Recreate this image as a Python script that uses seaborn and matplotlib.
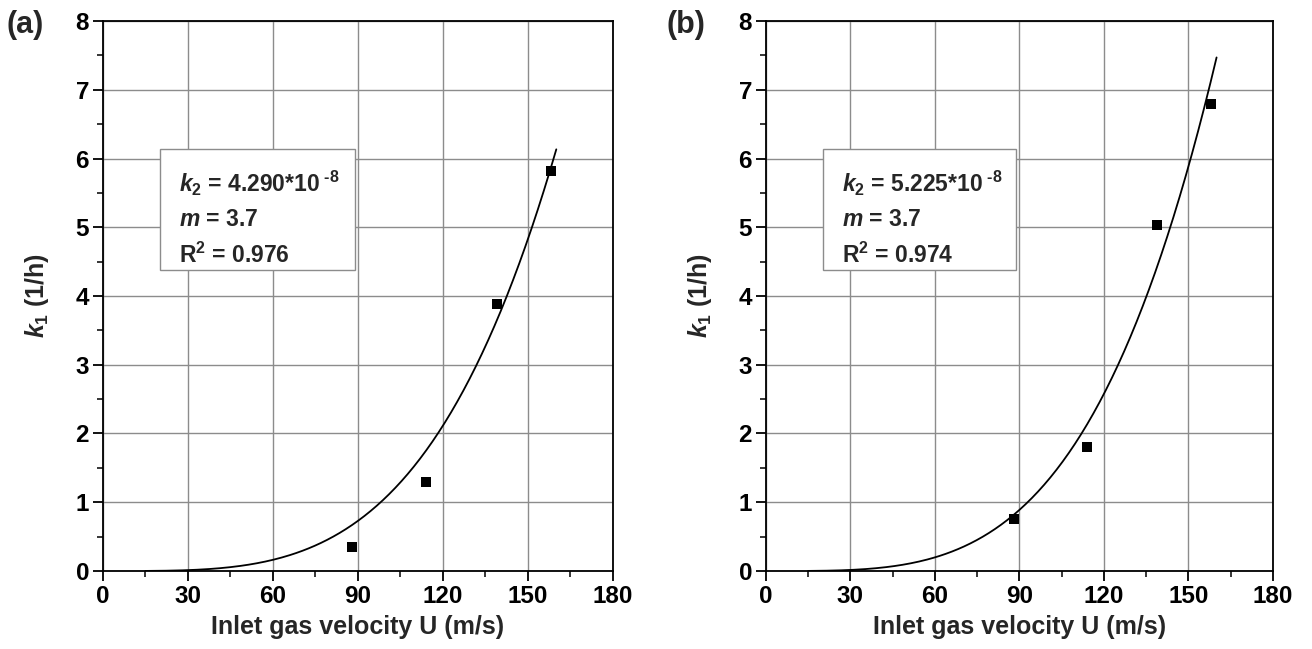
import matplotlib
matplotlib.use("Agg")
import matplotlib.pyplot as plt
from matplotlib.patches import Rectangle
import numpy as np
import pandas as pd
import seaborn as sns

# measured points: inlet velocity U (m/s) vs k1 (1/h)
velocity = [88, 114, 139, 158]
k1_a = [0.35, 1.29, 3.88, 5.82]
k1_b = [0.76, 1.80, 5.04, 6.79]

# fitted power law k1 = k2 * U^m, parameters as printed on the chart
k2_a, k2_b = 4.290e-8, 5.225e-8
m_exp = 3.7
r2_a, r2_b = 0.976, 0.974
k2_text = ["4.290", "5.225"]
panel_labels = ["(a)", "(b)"]

sns.set_theme(style="ticks")
plt.rcParams["font.family"] = ["Liberation Sans", "DejaVu Sans"]
plt.rcParams["font.weight"] = "bold"
plt.rcParams["mathtext.fontset"] = "custom"
plt.rcParams["mathtext.rm"] = "Liberation Sans:bold"
plt.rcParams["mathtext.it"] = "Liberation Sans:italic:bold"
plt.rcParams["mathtext.bf"] = "Liberation Sans:bold"

fig = plt.figure(figsize=(13.12, 6.49), dpi=100)
ax_a = fig.add_axes([0.0785, 0.1202, 0.3887, 0.8474])
ax_b = fig.add_axes([0.5838, 0.1202, 0.3864, 0.8474])

panels = [(ax_a, k1_a, k2_a, r2_a), (ax_b, k1_b, k2_b, r2_b)]
for i, (ax, k1, k2, r2) in enumerate(panels):
    u_fit = np.linspace(15, 160, 200)
    fit = pd.DataFrame({"U": u_fit, "k1": k2 * u_fit ** m_exp})
    pts = pd.DataFrame({"U": velocity, "k1": k1})

    sns.lineplot(data=fit, x="U", y="k1", ax=ax, color="black", lw=1.3)
    sns.scatterplot(data=pts, x="U", y="k1", ax=ax, marker="s", s=62,
                    color="black", edgecolor="black", linewidth=0, zorder=5)

    ax.set_xlim(0, 180)
    ax.set_ylim(0, 8)
    ax.set_xticks(np.arange(0, 181, 30))
    ax.set_xticks(np.arange(15, 180, 30), minor=True)
    ax.set_yticks(np.arange(0, 9, 1))
    ax.set_yticks(np.arange(0.5, 8, 1), minor=True)
    ax.grid(True, which="major", color="#8c8c8c", lw=1.0)
    ax.set_axisbelow(True)
    for sp in ax.spines.values():
        sp.set_color("black")
        sp.set_linewidth(1.3)
        sp.set_visible(True)
    ax.tick_params(which="major", direction="out", length=7, width=1.3,
                   labelsize=17.5, colors="black", pad=3)
    ax.tick_params(which="minor", direction="out", length=4, width=1.1,
                   colors="black")
    for lab in ax.get_xticklabels() + ax.get_yticklabels():
        lab.set_fontweight("bold")

    ax.set_xlabel("Inlet gas velocity U (m/s)", fontsize=18, fontweight="bold",
                  labelpad=5)
    ax.set_ylabel(r"$k_1$ (1/h)", fontsize=18, fontweight="bold", labelpad=18)

    # parameter box
    ax.add_patch(Rectangle((20.1, 4.38), 68.8, 1.76, fc="white",
                           ec="#8c8c8c", lw=1.0, zorder=6))
    txt = (r"$k_2$ = " + k2_text[i] + "*10$^{\\ \u2010 8}$" + "\n"
           + r"$m$ = " + f"{m_exp}" + "\n"
           + r"R$^2$ = " + f"{r2:.3f}")
    ax.text(27.0, 5.13, txt, fontsize=16.5, fontweight="bold", va="center",
            ha="left", linespacing=1.55, zorder=7)

fig.text(0.005, 0.962, panel_labels[0], fontsize=22, fontweight="bold",
         va="center", ha="left")
fig.text(0.508, 0.962, panel_labels[1], fontsize=22, fontweight="bold",
         va="center", ha="left")

fig.savefig("out.png", dpi=100)
